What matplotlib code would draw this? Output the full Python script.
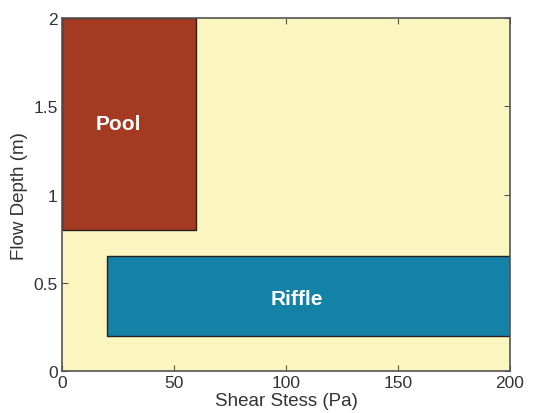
import matplotlib.pyplot as plt
from matplotlib.patches import Rectangle

plt.rcParams['font.family'] = ['Liberation Sans', 'DejaVu Sans']

# habitat zones
names = ['Pool', 'Riffle']
shear_lo = [0, 20]
shear_hi = [60, 200]
depth_lo = [0.8, 0.2]
depth_hi = [2.0, 0.65]
colors = ['#A43A22', '#1482A7']
label_x = [25, 105]
label_y = [1.40, 0.41]

fig = plt.figure(figsize=(5.34, 4.14), dpi=100)
ax = fig.add_axes([0.116, 0.101, 0.839, 0.853])
ax.set_facecolor('#FBF6C0')

for i in range(len(names)):
    ax.add_patch(Rectangle((shear_lo[i], depth_lo[i]),
                           shear_hi[i] - shear_lo[i],
                           depth_hi[i] - depth_lo[i],
                           facecolor=colors[i], edgecolor='#222222',
                           linewidth=1.0, zorder=2))
    ax.text(label_x[i], label_y[i], names[i], color='white', fontsize=15,
            fontweight='bold', ha='center', va='center', zorder=3)

ax.set_xlim(0, 200)
ax.set_ylim(0, 2)
ax.set_xticks([0, 50, 100, 150, 200])
ax.set_yticks([0, 0.5, 1, 1.5, 2])
ax.set_xticklabels(['0', '50', '100', '150', '200'])
ax.set_yticklabels(['0', '0.5', '1', '1.5', '2'])
ax.tick_params(direction='in', top=True, right=True, labelsize=12.5,
               color='#555555', labelcolor='#333333', length=4, pad=3)
for s in ax.spines.values():
    s.set_color('#555555')
    s.set_linewidth(1.2)
    s.set_zorder(4)
ax.set_xlabel('Shear Stess (Pa)', fontsize=13.5, labelpad=1, color='#333333')
ax.set_ylabel('Flow Depth (m)', fontsize=13.5, labelpad=4, color='#333333')

fig.savefig('out.png', dpi=100)
